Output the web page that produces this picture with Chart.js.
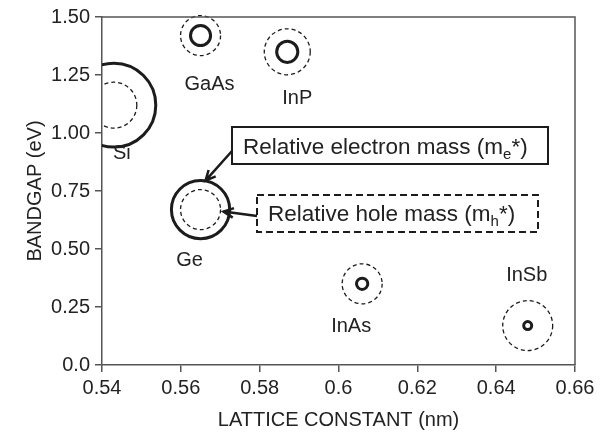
<!DOCTYPE html>
<html>
<head>
<meta charset="utf-8">
<script src="https://cdn.jsdelivr.net/npm/chart.js@4.4.1/dist/chart.umd.min.js"></script>
<style>
  html, body { margin: 0; padding: 0; background: #fff; }
  #wrap { width: 612px; height: 438px; }
</style>
</head>
<body>
<div id="wrap"><canvas id="chart"></canvas></div>
<script>
// values
const materials = ["Si", "GaAs", "InP", "Ge", "InAs", "InSb"];
const latticeConstant = [0.543, 0.565, 0.587, 0.565, 0.606, 0.648];
const bandgap = [1.12, 1.42, 1.35, 0.67, 0.35, 0.17];
const electronMass = [1.1, 0.063, 0.07, 0.53, 0.02, 0.01];
const holeMass = [0.33, 0.25, 0.33, 0.25, 0.25, 0.39];
const xTickLabels = ["0.54", "0.56", "0.58", "0.6", "0.62", "0.64", "0.66"];
const yTickLabels = ["0.0", "0.25", "0.50", "0.75", "1.00", "1.25", "1.50"];

// bubble radius (px) from relative mass
const massToRadius = m => 40 * Math.sqrt(m);

// where each material name sits relative to its point (px)
const labelOffsets = {
  Si: [8, 48], GaAs: [9, 49], InP: [10, 47],
  Ge: [-11, 51], InAs: [-11, 43], InSb: [-1, -50]
};

const FONT = "'Liberation Sans', Arial, Helvetica, sans-serif";
const INK = "#1c1c1c";
const AXIS = "#555";

Chart.defaults.font.family = FONT;
Chart.defaults.font.size = 20;
Chart.defaults.color = "#222";

function bubbleData(masses) {
  return materials.map((m, i) => ({
    x: latticeConstant[i],
    y: bandgap[i],
    r: massToRadius(masses[i])
  }));
}

function arrow(ctx, x1, y1, x2, y2) {
  const a = Math.atan2(y2 - y1, x2 - x1);
  const h = 11;
  ctx.beginPath();
  ctx.moveTo(x1, y1);
  ctx.lineTo(x2, y2);
  ctx.moveTo(x2 - h * Math.cos(a - 0.45), y2 - h * Math.sin(a - 0.45));
  ctx.lineTo(x2, y2);
  ctx.lineTo(x2 - h * Math.cos(a + 0.45), y2 - h * Math.sin(a + 0.45));
  ctx.stroke();
}

function subText(ctx, x, y, main, sub, tail) {
  ctx.font = "22.5px " + FONT;
  ctx.fillText(main, x, y);
  x += ctx.measureText(main).width;
  ctx.font = "15px " + FONT;
  ctx.fillText(sub, x, y + 5);
  x += ctx.measureText(sub).width;
  ctx.font = "22.5px " + FONT;
  ctx.fillText(tail, x, y);
}

const figurePlugin = {
  id: "figure",
  beforeDatasetDraw(chart, args) {
    if (args.index === 1) {
      chart.ctx.save();
      chart.ctx.setLineDash([4, 3]);
    }
  },
  afterDatasetDraw(chart, args) {
    if (args.index === 1) chart.ctx.restore();
  },
  afterDraw(chart) {
    const { ctx, chartArea: a, scales: { x, y } } = chart;
    ctx.save();

    // top and right frame
    ctx.strokeStyle = AXIS;
    ctx.lineWidth = 1.5;
    ctx.beginPath();
    ctx.moveTo(a.left, a.top);
    ctx.lineTo(a.right, a.top);
    ctx.lineTo(a.right, a.bottom);
    ctx.stroke();

    // material names
    ctx.fillStyle = "#222";
    ctx.font = "20px " + FONT;
    ctx.textAlign = "center";
    ctx.textBaseline = "middle";
    materials.forEach((m, i) => {
      const [dx, dy] = labelOffsets[m];
      ctx.fillText(m, x.getPixelForValue(latticeConstant[i]) + dx,
        y.getPixelForValue(bandgap[i]) + dy);
    });

    // legend boxes with arrows pointing at Ge
    const gi = materials.indexOf("Ge");
    const gx = x.getPixelForValue(latticeConstant[gi]);
    const gy = y.getPixelForValue(bandgap[gi]);

    ctx.strokeStyle = INK;
    ctx.lineWidth = 2;
    ctx.strokeRect(232, 127, 316, 37);
    ctx.setLineDash([7, 4]);
    ctx.strokeRect(257, 195, 281, 37);
    ctx.setLineDash([]);

    ctx.lineWidth = 2.5;
    arrow(ctx, 232, 151, gx + 5, gy - 29);
    arrow(ctx, 257, 216, gx + 23, gy + 2);

    ctx.textAlign = "left";
    ctx.textBaseline = "alphabetic";
    ctx.fillStyle = "#222";
    subText(ctx, 243, 154, "Relative electron mass (m", "e", "*)");
    subText(ctx, 268, 221, "Relative hole mass (m", "h", "*)");

    ctx.restore();
  }
};

new Chart(document.getElementById("chart"), {
  type: "bubble",
  data: {
    datasets: [
      {
        label: "Relative electron mass",
        data: bubbleData(electronMass),
        backgroundColor: "rgba(0,0,0,0)",
        borderColor: INK,
        borderWidth: 3,
        clip: { left: 0, top: 5, right: 5, bottom: 5 }
      },
      {
        label: "Relative hole mass",
        data: bubbleData(holeMass),
        backgroundColor: "rgba(0,0,0,0)",
        borderColor: INK,
        borderWidth: 1.3,
        clip: { left: 0, top: 5, right: 5, bottom: 5 }
      }
    ]
  },
  options: {
    responsive: true,
    maintainAspectRatio: false,
    animation: false,
    events: [],
    layout: { autoPadding: false, padding: { left: 0, top: 12, right: 37, bottom: 0 } },
    plugins: {
      legend: { display: false },
      tooltip: { enabled: false }
    },
    scales: {
      x: {
        type: "linear",
        min: 0.54,
        max: 0.66,
        afterFit: s => { s.height = 73; },
        border: { display: true, color: AXIS, width: 1.5 },
        grid: { display: true, drawOnChartArea: false, drawTicks: true, tickLength: 7, color: AXIS, lineWidth: 1.5 },
        ticks: {
          stepSize: 0.02,
          padding: 4,
          maxRotation: 0,
          callback: (v, i) => xTickLabels[i]
        },
        title: {
          display: true,
          text: "LATTICE CONSTANT (nm)",
          padding: { top: 2, bottom: 6 }
        }
      },
      y: {
        type: "linear",
        min: 0,
        max: 1.5,
        afterFit: s => { s.width = 102; },
        border: { display: true, color: AXIS, width: 1.5 },
        grid: { display: true, drawOnChartArea: false, drawTicks: true, tickLength: 7, color: AXIS, lineWidth: 1.5 },
        ticks: {
          stepSize: 0.25,
          padding: 5,
          callback: (v, i) => yTickLabels[i]
        },
        title: {
          display: true,
          text: "BANDGAP (eV)",
          padding: { top: 23, bottom: 4 }
        }
      }
    }
  },
  plugins: [figurePlugin]
});
</script>
</body>
</html>
